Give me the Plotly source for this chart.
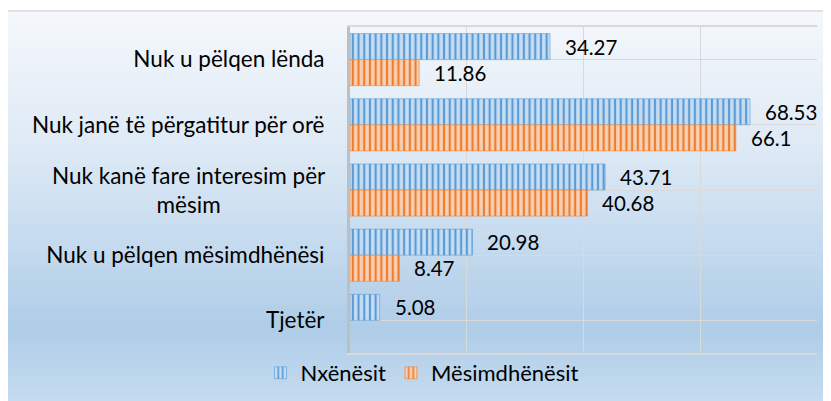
import plotly.graph_objects as go

categories = [
    "Nuk u pëlqen lënda",
    "Nuk janë të përgatitur për orë",
    "Nuk kanë fare interesim për<br>mësim",
    "Nuk u pëlqen mësimdhënësi",
    "Tjetër",
]
series_names = ["Nxënësit", "Mësimdhënësit"]
nxenesit = [34.27, 68.53, 43.71, 20.98, 5.08]
mesimdhenesit = [11.86, 66.1, 40.68, 8.47, None]

# page body has an 8px margin: work in reference-window pixels, convert to figure pixels
OFF = 8
W, H = 831 - OFF, 401 - OFF
L, R, T, B = 350 - OFF, 817 - OFF, 27 - OFF, 353 - OFF
pw, ph = R - L, B - T

def px_x(p):  # window pixel -> paper x
    return (p - OFF - L) / pw

def px_y(p):  # window pixel -> paper y
    return (B - (p - OFF)) / ph

FONT = "Lato"
CAT_SIZE = 22.5
fig = go.Figure()

styles = [
    dict(fg="#5b9bd5", bg="#c6ddf3", line="rgba(91,155,213,0.55)"),
    dict(fg="#ed7d31", bg="#f9d0b2", line="rgba(237,125,49,0.55)"),
]
for name, vals, st in zip(series_names, [nxenesit, mesimdhenesit], styles):
    fig.add_trace(go.Bar(
        name=name,
        y=list(range(len(categories))),
        x=vals,
        orientation="h",
        marker=dict(
            color=st["bg"],
            line=dict(color=st["line"], width=1),
            pattern=dict(shape="|", fgcolor=st["fg"], bgcolor=st["bg"], size=5.7, solidity=0.38, fillmode="replace"),
        ),
        hoverinfo="skip",
    ))

annotations = []
# data labels
for k, vals in enumerate([nxenesit, mesimdhenesit]):
    off = -0.2 if k == 0 else 0.2
    for i, v in enumerate(vals):
        if v is None:
            continue
        annotations.append(dict(
            x=v, y=i + off, xref="x", yref="y", text=f"{v:g}", showarrow=False,
            xanchor="left", yanchor="middle", xshift=13,
            font=dict(family=FONT, size=20.5, color="#000000"),
        ))

# single-line categories as tick labels; wrapped category drawn centred (Excel style)
tick_text = []
for i, c in enumerate(categories):
    if "<br>" in c:
        tick_text.append("")
        annotations.append(dict(
            x=0, y=i, xref="paper", yref="y", text=c, showarrow=False, align="center",
            xanchor="right", yanchor="middle", xshift=-22, yshift=0,
            font=dict(family=FONT, size=CAT_SIZE, color="#000000"),
        ))
    else:
        tick_text.append(c)

# background gradient (window pixel rows)
stops = [(11, (245, 248, 252)), (150, (221, 233, 245)), (330, (175, 205, 232)), (401, (197, 219, 239))]
shapes = []
def col_at(p):
    for (p0, c0), (p1, c1) in zip(stops[:-1], stops[1:]):
        if p0 <= p <= p1:
            t = (p - p0) / (p1 - p0)
            return tuple(round(a + (b - a) * t) for a, b in zip(c0, c1))
    return stops[-1][1]

step = 3
p = 11
while p < 412:
    c = col_at(min(p + step / 2, 401))
    shapes.append(dict(type="rect", xref="paper", yref="paper", layer="below",
                       x0=px_x(0), x1=px_x(845), y0=px_y(p), y1=px_y(p + step + 0.6),
                       fillcolor=f"rgb{c}", line=dict(width=0)))
    p += step
# frame (top edge)
shapes.append(dict(type="line", xref="paper", yref="paper", layer="below",
                   x0=px_x(0), x1=px_x(845), y0=px_y(11), y1=px_y(11),
                   line=dict(color="#d9d9d9", width=1.5)))

fig.update_layout(
    width=W, height=H,
    margin=dict(l=L, r=W - R, t=T, b=H - B, autoexpand=False),
    paper_bgcolor="white",
    plot_bgcolor="rgba(0,0,0,0)",
    barmode="group", bargap=0.2, bargroupgap=0,
    font=dict(family=FONT, size=20, color="#000000"),
    shapes=shapes,
    annotations=annotations,
    showlegend=True,
    legend=dict(orientation="h", xref="container", yref="container",
                x=(422.5 - OFF) / W, xanchor="center",
                y=(H - (373 - OFF)) / H, yanchor="middle",
                bgcolor="rgba(0,0,0,0)", font=dict(family=FONT, size=22, color="#000000"),
                itemwidth=30),
)
fig.update_xaxes(range=[0, 80], dtick=20, showticklabels=False, showgrid=True, gridcolor="#d9d9d9",
                 gridwidth=1, zeroline=False, showline=True, mirror=True, linecolor="#d9d9d9",
                 linewidth=1.5, automargin=False)
fig.update_yaxes(tickmode="array", tickvals=list(range(len(categories))), ticktext=tick_text,
                 range=[len(categories) - 0.5, -0.5], tickson="boundaries", showgrid=True,
                 gridcolor="#d9d9d9", gridwidth=1, showline=True, linecolor="#bfbfbf", linewidth=3,
                 ticks="", ticklabelstandoff=18, automargin=False,
                 tickfont=dict(family=FONT, size=CAT_SIZE, color="#000000"))

fig.write_html("out.html")
